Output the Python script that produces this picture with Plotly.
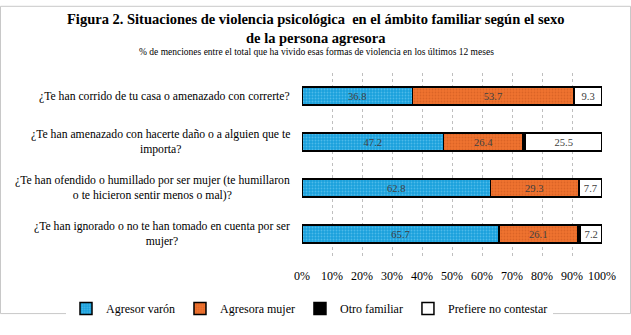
import plotly.graph_objects as go

categories = [
    "¿Te han corrido de tu casa o amenazado con correrte?",
    "¿Te han amenazado con hacerte daño o a alguien que te<br>importa?",
    "¿Te han ofendido o humillado por ser mujer (te humillaron<br>o te hicieron sentir menos o mal)?",
    "¿Te han ignorado o no te han tomado en cuenta por ser<br>mujer?",
]
cat_ids = ["c1", "c2", "c3", "c4"]
agresor_varon = [36.8, 47.2, 62.8, 65.7]
agresora_mujer = [53.7, 26.4, 29.3, 26.1]
otro_familiar = [0.2, 0.9, 0.2, 1.0]
prefiere_no = [9.3, 25.5, 7.7, 7.2]
tick_vals = [0, 10, 20, 30, 40, 50, 60, 70, 80, 90, 100]
tick_text = [f"{v}%" for v in tick_vals]

W, H = 631, 335
L, R, T, B = 302, 29, 73, 62
PW, PH = W - L - R, H - T - B

font_family = "Liberation Serif"


def px_x(x):
    return (x - L) / PW


def px_y(y):
    return 1 - (y - T) / PH


fig = go.Figure()
series = [
    ("Agresor varón", agresor_varon, "#1AA0DC", "#7FD3F5", True),
    ("Agresora mujer", agresora_mujer, "#EF7330", "#C8561C", True),
    ("Otro familiar", otro_familiar, "#000000", None, False),
    ("Prefiere no contestar", prefiere_no, "#FFFFFF", None, True),
]
for name, vals, col, fg, show_text in series:
    marker = dict(color=col, line=dict(color="#000000", width=1.5))
    if fg:
        marker["pattern"] = dict(shape=".", fgcolor=fg, bgcolor=col, size=3, solidity=0.3, fillmode="overlay")
    fig.add_trace(go.Bar(
        name=name, y=cat_ids, x=vals, orientation="h",
        marker=marker,
        text=[f"{v:.1f}" for v in vals] if show_text else None,
        textposition="inside" if show_text else "none",
        insidetextanchor="middle",
        textangle=0,
        textfont=dict(family=font_family, size=12, color="#404040"),
        hoverinfo="x+name",
    ))

for cid, label in zip(cat_ids, categories):
    fig.add_annotation(
        x=px_x(292), xref="paper", y=cid, yref="y",
        text=label, showarrow=False, xanchor="right", yanchor="middle",
        align="center", font=dict(family=font_family, size=11.7, color="#000000"),
    )

fig.add_annotation(
    x=px_x(316), xref="paper", y=px_y(25), yref="paper",
    text="<b>Figura 2. Situaciones de violencia psicológica  en el ámbito familiar según el sexo<br>de la persona agresora</b>",
    showarrow=False, xanchor="center", yanchor="middle", align="center",
    font=dict(family=font_family, size=14.5, color="#000000"),
)
fig.add_annotation(
    x=px_x(316), xref="paper", y=px_y(50), yref="paper",
    text="% de menciones entre el total que ha vivido esas formas de violencia en los últimos 12 meses",
    showarrow=False, xanchor="center", yanchor="middle",
    font=dict(family=font_family, size=9.5, color="#000000"),
)

# outer border
fig.add_shape(type="rect", xref="paper", yref="paper",
              x0=px_x(0.5), x1=px_x(W - 0.5),
              y0=px_y(H - 0.5), y1=px_y(0.5),
              line=dict(color="#C8C8C8", width=1), layer="below")

fig.update_layout(
    width=W, height=H,
    margin=dict(l=L, r=R, t=T, b=B),
    barmode="stack", bargap=0.6,
    paper_bgcolor="white", plot_bgcolor="white",
    font=dict(family=font_family, color="#000000"),
    xaxis=dict(
        range=[0, 100], tickvals=tick_vals, ticktext=tick_text,
        showgrid=True, gridcolor="#BFBFBF", griddash="dot", gridwidth=1,
        zeroline=False, showline=False,
        ticks="outside", ticklen=8, tickcolor="rgba(0,0,0,0)", fixedrange=True,
        tickfont=dict(family=font_family, size=12, color="#000000"),
    ),
    yaxis=dict(
        categoryorder="array", categoryarray=cat_ids, autorange="reversed",
        showticklabels=False, showgrid=False, zeroline=False, ticks="",
    ),
    legend=dict(
        orientation="h", xref="paper", yref="paper",
        x=px_x(66), xanchor="left", y=px_y(329), yanchor="middle",
        font=dict(family=font_family, size=12, color="#000000"),
        itemwidth=30, tracegroupgap=0, traceorder="normal",
        entrywidth=0,
    ),
    showlegend=True,
)

fig.write_html("out.html")
